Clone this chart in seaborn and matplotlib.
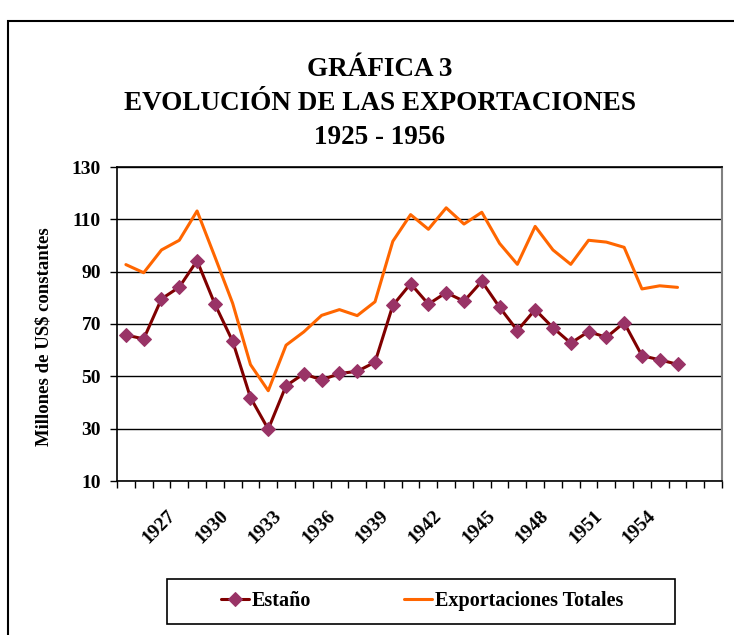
import numpy as np
import pandas as pd
from matplotlib import pyplot as plt
from matplotlib.patches import Rectangle
from matplotlib.transforms import ScaledTranslation
import seaborn as sns

years = list(range(1925, 1957))
estano = [65.8, 64.3, 79.6, 84.1, 94.2, 77.6, 63.4, 41.9, 29.8, 46.4,
          51.0, 48.6, 51.1, 51.9, 55.4, 77.1, 85.4, 77.6, 82.0, 78.7,
          86.3, 76.4, 67.5, 75.5, 68.6, 62.7, 67.1, 64.9, 70.5, 57.9,
          56.3, 54.6]
totales = [92.7, 89.6, 98.3, 102.0, 113.2, 95.7, 77.9, 54.5, 44.5, 61.9,
           67.0, 73.3, 75.5, 73.2, 78.5, 101.6, 111.8, 106.2, 114.4, 108.2,
           112.7, 100.8, 92.8, 107.3, 98.3, 92.8, 102.0, 101.3, 99.3, 83.4,
           84.6, 84.0]
n_categories = 34  # axis runs 1925-1958, data ends 1956
label_years = list(range(1927, 1955, 3))

df = pd.DataFrame({"idx": np.arange(len(years)), "year": years,
                   "Estaño": estano, "Exportaciones Totales": totales})

sns.set_style("white")
plt.rcParams['font.family'] = ['Liberation Serif', 'DejaVu Serif']
plt.rcParams['font.weight'] = 'bold'
for key in ['text.color', 'axes.labelcolor', 'xtick.color', 'ytick.color']:
    plt.rcParams[key] = 'black'

fig = plt.figure(figsize=(7.34, 6.35), dpi=100)
ax = fig.add_axes([117 / 734, 1 - 481 / 635, 605 / 734, 314 / 635])

sns.lineplot(data=df, x="idx", y="Estaño", ax=ax, color="#800000", lw=2.2,
             marker="D", markersize=7, markerfacecolor="#993366",
             markeredgecolor="#993366", label="Estaño", zorder=4)
sns.lineplot(data=df, x="idx", y="Exportaciones Totales", ax=ax,
             color="#FF6600", lw=2.2, label="Exportaciones Totales", zorder=3)

ax.set_xlim(-0.5, n_categories - 0.5)
ax.set_ylim(10, 130)
ax.set_yticks(range(10, 131, 20))
ax.grid(axis="y", color="black", lw=1)
ax.set_axisbelow(True)

# labelled years (every third category), tick marks on category boundaries
ax.set_xticks([years.index(y) for y in label_years])
ax.set_xticklabels([str(y) for y in label_years], rotation=45, ha="right",
                   va="top", rotation_mode="anchor", fontsize=14,
                   fontweight="bold")
ax.set_xticks(np.arange(-0.5, n_categories, 1), minor=True)
ax.tick_params(axis="x", which="major", length=0, pad=19)
ax.tick_params(axis="x", which="minor", length=5, width=1, color="black",
               direction="out", bottom=True)
shift = ScaledTranslation(5 / 100, 0, fig.dpi_scale_trans)
for lab in ax.get_xticklabels():
    lab.set_transform(lab.get_transform() + shift)

ax.tick_params(axis="y", length=5, width=1, color="black", direction="out",
               left=True, labelsize=14, pad=6.5)
for t in ax.get_yticklabels():
    t.set_fontweight("bold")

ax.set_xlabel("")
ax.set_ylabel("Millones de US$ constantes", fontsize=13.5, fontweight="bold")
ax.yaxis.set_label_coords(-0.106, 0.46)

for side in ["left", "bottom", "top"]:
    ax.spines[side].set_color("black")
    ax.spines[side].set_linewidth(1.2)
ax.spines["right"].set_color("#808080")
ax.spines["right"].set_linewidth(1.5)

ax.get_legend().remove()
handles, labels = ax.get_legend_handles_labels()
fig.legend(handles, labels, loc="center", ncol=2,
           bbox_to_anchor=(422 / 734, 1 - 601 / 635),
           frameon=False, prop={"size": 14.5, "weight": "bold"},
           handlelength=1.4, handletextpad=0.15, columnspacing=4.6,
           borderpad=0, borderaxespad=0)
# legend box is wider than its content
fig.patches.append(Rectangle((167 / 734, 1 - 624 / 635), 508 / 734, 45 / 635,
                             transform=fig.transFigure, fill=False,
                             edgecolor="black", lw=1.2))

fig.text(380 / 734, 1 - 70 / 635, "GRÁFICA 3", ha="center", va="center",
         fontsize=19.5, fontweight="bold")
fig.text(380 / 734, 1 - 104 / 635, "EVOLUCIÓN DE LAS EXPORTACIONES",
         ha="center", va="center", fontsize=19.5, fontweight="bold")
fig.text(380 / 734, 1 - 138 / 635, "1925 - 1956", ha="center", va="center",
         fontsize=19.5, fontweight="bold")

fig.patches.append(Rectangle((8 / 734, -0.05), 1.1, 1 - 21 / 635 + 0.05,
                             transform=fig.transFigure, fill=False,
                             edgecolor="black", lw=1.5))

fig.savefig("out.png", dpi=100)
